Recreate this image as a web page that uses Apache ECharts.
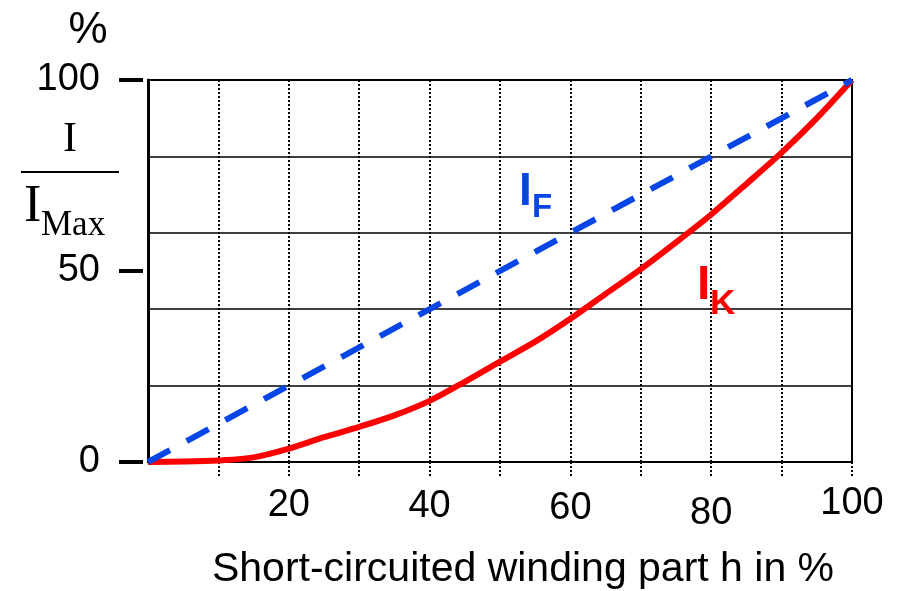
<!DOCTYPE html>
<html>
<head>
<meta charset="utf-8">
<script src="https://cdn.jsdelivr.net/npm/echarts@6/dist/echarts.min.js"></script>
<style>
html,body{margin:0;padding:0;background:#fff;}
#chart{width:906px;height:591px;}
</style>
</head>
<body>
<div id="chart"></div>
<script>
// Data
var hValues = [0, 5, 10, 15, 20, 25, 30, 35, 40, 45, 50, 55, 60, 65, 70, 75, 80, 85, 90, 95, 100];
var iK = [0, 0.1, 0.4, 1.2, 3.5, 6.5, 9.2, 12.2, 16, 21, 26.3, 31.5, 37.5, 44, 50.5, 57.5, 64.8, 72.8, 81, 90, 100];
var iF_h = [0, 100];
var iF = [0, 100];
var xTickLabels = [20, 40, 60, 80, 100];
var yTickLabels = [0, 50, 100];
var xLabelShift = {20: 2, 40: 3, 60: 5, 80: 10, 100: 0};

var FONT = "'Liberation Sans', Arial, sans-serif";
var SERIF = "'Liberation Serif', 'Times New Roman', serif";

var chart = echarts.init(document.getElementById('chart'), null, {renderer: 'canvas'});

var rich = {};
xTickLabels.forEach(function (v) {
  rich['l' + v] = {fontSize: 38, fontFamily: FONT, color: '#000', padding: [xLabelShift[v], 0, 0, 0]};
});

var option = {
  animation: false,
  backgroundColor: '#fff',
  grid: {left: 148, right: 54, top: 80, bottom: 129, outerBoundsMode: 'none', containLabel: false, show: true, borderColor: '#000', borderWidth: 2, backgroundColor: 'transparent'},
  xAxis: {
    type: 'value', min: 0, max: 100, interval: 10,
    axisLine: {show: true, lineStyle: {color: '#000', width: 2}},
    axisTick: {show: true, length: 14, inside: false, lineStyle: {color: '#000', width: 2, type: [2, 2]}},
    splitLine: {show: true, showMinLine: false, showMaxLine: false, lineStyle: {color: '#000', width: 2, type: [2, 2]}},
    axisLabel: {
      margin: 23,
      showMinLabel: false,
      formatter: function (v) {
        return xTickLabels.indexOf(v) >= 0 ? '{l' + v + '|' + v + '}' : '';
      },
      rich: rich
    },
    name: 'Short-circuited winding part h in %',
    nameLocation: 'middle',
    nameGap: 87,
    nameTextStyle: {fontSize: 41, fontFamily: FONT, color: '#000', padding: [0, 0, 0, 46]}
  },
  yAxis: [
    {
      type: 'value', min: 0, max: 100, interval: 20,
      axisLine: {show: true, lineStyle: {color: '#000', width: 3}},
      axisTick: {show: false},
      axisLabel: {show: false},
      splitLine: {show: true, lineStyle: {color: '#000', width: 1.5}}
    },
    {
      type: 'value', min: 0, max: 100, interval: 50, position: 'left', offset: 5,
      axisLine: {show: false},
      axisTick: {show: true, length: 24, lineStyle: {color: '#000', width: 4}},
      splitLine: {show: false},
      axisLabel: {
        margin: 43, fontSize: 38, fontFamily: FONT, color: '#000',
        formatter: function (v) { return yTickLabels.indexOf(v) >= 0 ? String(v) : ''; }
      }
    }
  ],
  series: [
    {
      name: 'IK', type: 'line', smooth: 0.3, symbol: 'none',
      data: hValues.map(function (h, i) { return [h, iK[i]]; }),
      lineStyle: {color: '#ff0000', width: 6}, z: 3
    },
    {
      name: 'IF', type: 'line', symbol: 'none',
      data: iF_h.map(function (h, i) { return [h, iF[i]]; }),
      lineStyle: {color: '#0746e6', width: 6, type: [25, 19]}, z: 4
    }
  ],
  graphic: [
    {type: 'text', style: {text: '%', x: 88, y: 31, font: "44px " + FONT, fill: '#000', textAlign: 'center', textVerticalAlign: 'middle', align: 'center', verticalAlign: 'middle'}},
    {type: 'text', style: {text: 'I', x: 70, y: 140, font: "42px " + SERIF, fill: '#000', textAlign: 'center', textVerticalAlign: 'middle', align: 'center', verticalAlign: 'middle'}},
    {type: 'line', shape: {x1: 21, y1: 172, x2: 119, y2: 172}, style: {stroke: '#000', lineWidth: 2}},
    {type: 'text', style: {text: 'I', x: 24, y: 207, font: "52px " + SERIF, fill: '#000', textAlign: 'left', textVerticalAlign: 'middle', align: 'left', verticalAlign: 'middle'}},
    {type: 'text', style: {text: 'Max', x: 41, y: 226, font: "35px " + SERIF, fill: '#000', textAlign: 'left', textVerticalAlign: 'middle', align: 'left', verticalAlign: 'middle'}},
    {type: 'text', z: 10, style: {text: 'I', x: 519, y: 192, font: "bold 46px " + FONT, fill: '#0746e6', textAlign: 'left', textVerticalAlign: 'middle', align: 'left', verticalAlign: 'middle'}},
    {type: 'text', z: 10, style: {text: 'F', x: 532, y: 208, font: "bold 33px " + FONT, fill: '#0746e6', textAlign: 'left', textVerticalAlign: 'middle', align: 'left', verticalAlign: 'middle'}},
    {type: 'text', z: 10, style: {text: 'I', x: 697, y: 286, font: "bold 48px " + FONT, fill: '#ff0000', textAlign: 'left', textVerticalAlign: 'middle', align: 'left', verticalAlign: 'middle'}},
    {type: 'text', z: 10, style: {text: 'K', x: 710, y: 304, font: "bold 35px " + FONT, fill: '#ff0000', textAlign: 'left', textVerticalAlign: 'middle', align: 'left', verticalAlign: 'middle'}}
  ]
};
chart.setOption(option);
</script>
</body>
</html>
